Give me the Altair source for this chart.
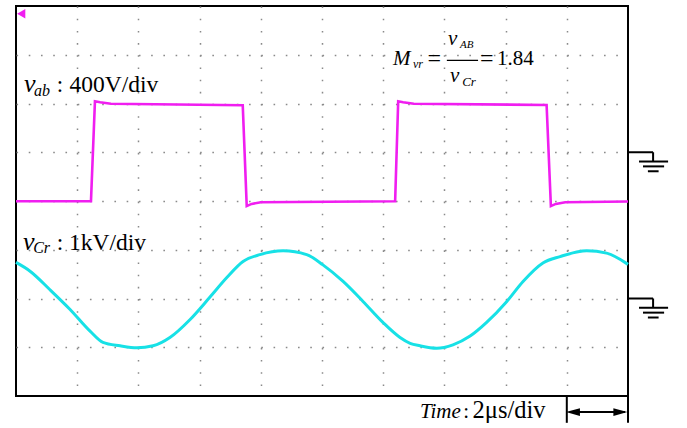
import altair as alt
import pandas as pd

# ---- data ----
# time in microseconds (2 us/div, 10 divisions); screen vertical in divisions (-4..4)
t_ab = [0.0, 2.45, 2.58, 2.75, 3.1, 7.41, 7.54, 7.7, 8.0, 12.39, 12.49, 12.65, 13.0, 17.34, 17.48, 17.64, 17.95, 20.0]
v_ab = [-402, -402, 418, 410, 398, 386, -442, -424, -410, -402, 418, 410, 398, 388, -442, -424, -410, -404]  # volts

t_cr = [0.0, 0.46, 1.11, 1.76, 2.42, 2.84, 3.40, 3.95, 4.48, 5.03, 5.69, 6.34, 6.89, 7.42, 7.97,
        8.73, 9.50, 10.03, 10.69, 11.34, 11.99, 12.55, 12.88, 13.20, 13.75, 14.28, 14.84, 15.38,
        16.04, 16.57, 17.22, 17.78, 18.65, 19.30, 20.0]
v_cr = [0.74, 0.56, 0.18, -0.22, -0.67, -0.90, -0.97, -1.01, -0.97, -0.80, -0.43, 0.03, 0.43, 0.76, 0.90,
        0.98, 0.90, 0.69, 0.35, -0.06, -0.49, -0.80, -0.92, -0.97, -1.02, -0.95, -0.77, -0.49,
        -0.06, 0.35, 0.73, 0.86, 0.98, 0.93, 0.70]  # kV

VAB_PER_DIV = 400.0   # V/div
VCR_PER_DIV = 1.0     # kV/div
vab_gnd = 1           # ground level of channel 1 (div)
vcr_gnd = -2          # ground level of channel 2 (div)

ab = pd.DataFrame({"t": t_ab, "v": v_ab})
cr = pd.DataFrame({"t": t_cr, "v": v_cr})

FONT = "Liberation Serif"
MAG = "#f01ef0"
CYA = "#17e1e6"

xs = alt.Scale(domain=[0, 20], nice=False, zero=False)
ys = alt.Scale(domain=[-4, 4], nice=False, zero=False)
xa = alt.Axis(values=list(range(2, 20, 2)), grid=True, labels=False, ticks=False, domain=False,
              title=None, gridDash=[1.6, 10.59], gridColor="#8a8a8a", gridWidth=1.5)
ya = alt.Axis(values=[-3, -2, -1, 0, 1, 2, 3], grid=True, labels=False, ticks=False, domain=False,
              title=None, gridDash=[1.6, 10.64], gridColor="#8a8a8a", gridWidth=1.5)


def X(f):
    return alt.X(f, type="quantitative", scale=xs, axis=xa)


def Y(f):
    return alt.Y(f, type="quantitative", scale=ys, axis=ya)


vab_line = alt.Chart(ab).transform_calculate(
    y=f"{vab_gnd} + datum.v / {VAB_PER_DIV}"
).mark_line(color=MAG, strokeWidth=2.6).encode(x=X("t"), y=Y("y"), order="t:Q")

vcr_line = alt.Chart(cr).transform_calculate(
    y=f"{vcr_gnd} + datum.v / {VCR_PER_DIV}"
).mark_line(color=CYA, strokeWidth=3, interpolate="monotone").encode(x=X("t"), y=Y("y"), order="t:Q")

# trigger marker
trig = alt.Chart(pd.DataFrame({"t": [0.17], "y": [3.84]})).mark_point(
    shape="triangle-left", filled=True, size=90, color=MAG, opacity=1
).encode(x=X("t"), y=Y("y"))

# annotation text (positions in data units)
ital = pd.DataFrame({
    "t": [0.26, 0.59, 0.23, 0.56, 12.32, 12.97, 14.12, 14.51, 14.18, 14.58, 13.2],
    "d": [2.23, 2.15, -1.00, -1.06, 2.78, 2.72, 3.20, 3.13, 2.44, 2.36, -4.45],
    "s": ["v", "ab", "v", "Cr", "M", "vr", "v", "AB", "v", "Cr", "Time"],
    "fs": [26, 16, 26, 16, 21, 12, 21, 11, 21, 13, 21],
})
reg = pd.DataFrame({
    "t": [1.33, 1.75, 1.33, 1.73, 13.45, 15.16, 15.72, 14.62, 14.92],
    "d": [2.23, 2.23, -1.00, -1.00, 2.765, 2.765, 2.78, -4.45, -4.45],
    "s": [":", "400V/div", ":", "1kV/div", "=", "=", "1.84", ":", "2μs/div"],
    "fs": [23, 23.5, 23.5, 23.5, 24, 24, 21, 21, 24.5],
})

txt_i = alt.Chart(ital).mark_text(font=FONT, fontStyle="italic", align="left", baseline="alphabetic",
                                  color="black").encode(
    x=X("t"), y=Y("d"), text="s:N", size=alt.Size("fs:Q", scale=None))
txt_r = alt.Chart(reg).mark_text(font=FONT, align="left", baseline="alphabetic", color="black").encode(
    x=X("t"), y=Y("d"), text="s:N", size=alt.Size("fs:Q", scale=None))

# decorative rules: fraction bar, ground symbols, time-scale arrow
rules = pd.DataFrame({
    "x": [14.08,
          20.0, 20.82, 20.36, 20.49, 20.65,
          20.0, 20.82, 20.36, 20.49, 20.65,
          18.0, 20.0, 18.1],
    "x2": [15.10,
           20.82, 20.82, 21.31, 21.18, 21.0,
           20.82, 20.82, 21.31, 21.18, 21.0,
           18.0, 20.0, 19.9],
    "y": [2.885,
          vab_gnd, vab_gnd, vab_gnd - 0.19, vab_gnd - 0.29, vab_gnd - 0.39,
          vcr_gnd, vcr_gnd, vcr_gnd - 0.19, vcr_gnd - 0.29, vcr_gnd - 0.39,
          -4.0, -4.0, -4.33],
    "y2": [2.885,
           vab_gnd, vab_gnd - 0.19, vab_gnd - 0.19, vab_gnd - 0.29, vab_gnd - 0.39,
           vcr_gnd, vcr_gnd - 0.19, vcr_gnd - 0.19, vcr_gnd - 0.29, vcr_gnd - 0.39,
           -4.55, -4.55, -4.33],
    "w": [1.2, 2, 2, 2, 2, 2, 2, 2, 2, 2, 2, 2, 2, 2],
})
rule_layer = alt.Chart(rules).mark_rule(color="black").encode(
    x=X("x"), x2="x2", y=Y("y"), y2="y2", strokeWidth=alt.StrokeWidth("w:Q", scale=None))

heads = pd.DataFrame({"t": [18.2, 19.75], "y": [-4.33, -4.33], "k": ["l", "r"]})
head_l = alt.Chart(heads).transform_filter("datum.k == 'l'").mark_point(
    shape="M-1,0L1,-0.55L1,0.55Z", filled=True, size=196, color="black", opacity=1, strokeWidth=0
).encode(x=X("t"), y=Y("y"))
head_r = alt.Chart(heads).transform_filter("datum.k == 'r'").mark_point(
    shape="M1,0L-1,-0.55L-1,0.55Z", filled=True, size=196, color="black", opacity=1, strokeWidth=0
).encode(x=X("t"), y=Y("y"))

chart = alt.layer(vab_line, vcr_line, trig, txt_i, txt_r, rule_layer, head_l, head_r).properties(
    width=612, height=390,
    autosize=alt.AutoSizeParams(type="none"),
    padding={"left": 16, "top": 6, "right": 59, "bottom": 32},
    background="white",
).configure_view(stroke="black", strokeWidth=2)

chart.save("out.html", embed_options={"renderer": "svg", "actions": False})
